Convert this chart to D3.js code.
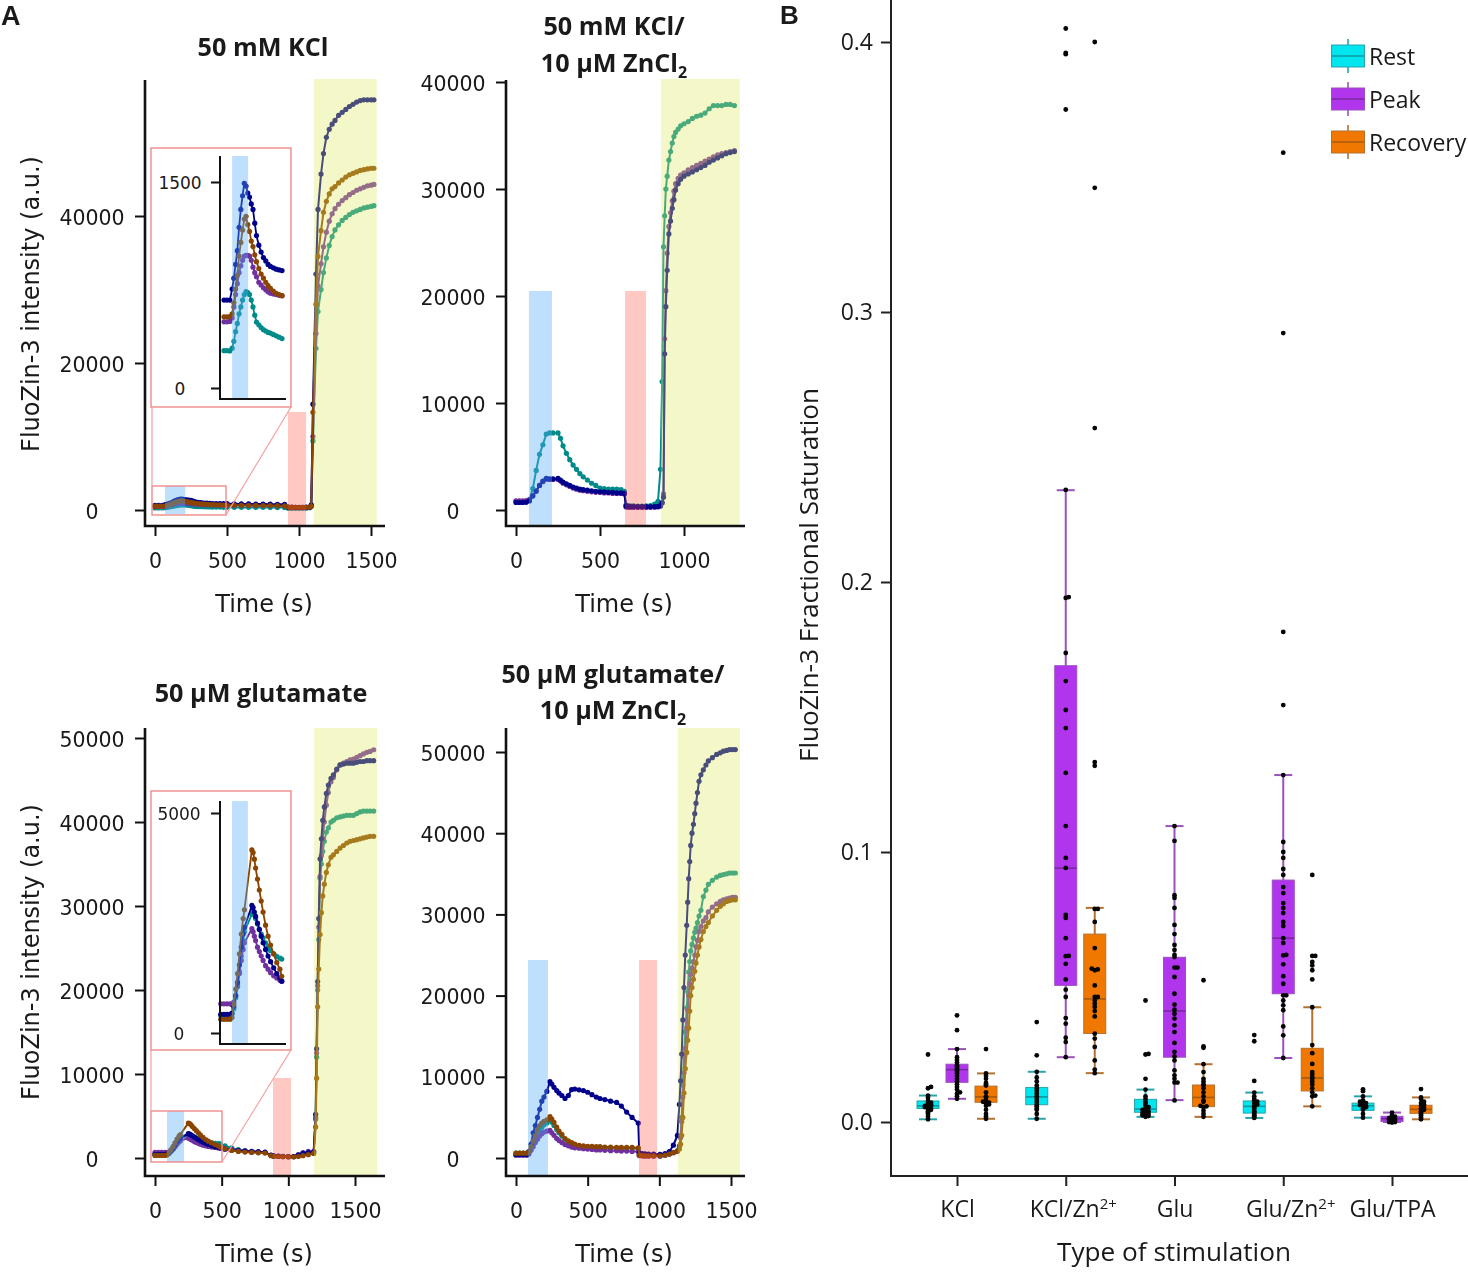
<!DOCTYPE html>
<html>
<head>
<meta charset="utf-8">
<script src="https://cdn.jsdelivr.net/npm/d3@7"></script>
<style>
  body { margin: 0; background: #fff; }
  svg { display: block; filter: blur(0.45px); }
  .a text { font-family: "DejaVu Sans", sans-serif; fill: #1a1a1a; }
  .b text { font-family: "Open Sans", sans-serif; fill: #1a1a1a; }
</style>
</head>
<body>
<div id="chart"></div>
<script>
// Painel A: series de intensidade
const colorNavy = "#00008b", colorBrown = "#8b4500", colorPurple = "#7030a0", colorTeal = "#008b8b";

const timeKCl = [0,25,50,70,85,100,115,130,145,160,
  175,190,205,220,235,250,265,280,300,320,
  340,360,380,400,425,450,475,500,550,600,
  650,700,750,800,850,900,925,950,975,1000,
  1025,1050,1075,1085,1097,1118,1132,1153,1170,1190,
  1210,1230,1250,1275,1300,1325,1350,1375,1400,1425,
  1450,1475,1500,1520];
const kclNavy = [640,640,640,720,800,900,1000,1170,1300,1400,
  1490,1470,1420,1390,1340,1300,1200,1110,1040,990,
  950,925,900,885,875,865,860,855,840,830,
  820,810,800,790,780,770,400,380,370,370,
  370,380,390,700,14400,32100,40900,45700,48500,50700,
  51800,52500,53000,53700,54100,54500,54900,55200,55500,55700,
  55800,55800,55800,55800];
const kclBrown = [518,518,520,540,620,720,820,960,1060,1150,
  1230,1250,1190,1140,1070,1030,970,920,870,830,
  800,770,745,725,705,690,680,672,650,640,
  630,620,610,600,590,580,400,370,350,340,
  350,360,380,500,13300,28000,34500,38000,40500,42000,
  43000,43700,44000,44500,44900,45300,45600,45800,46000,46200,
  46300,46400,46500,46500];
const kclPurple = [482,482,485,510,590,680,760,840,890,930,
  960,965,965,960,930,880,840,810,770,750,
  730,715,700,690,685,680,675,672,650,640,
  630,620,610,600,590,580,350,330,320,320,
  320,330,350,550,10000,24000,30500,33500,35800,37800,
  39300,40300,41000,41600,42100,42500,42900,43200,43500,43700,
  43900,44100,44200,44300];
const kclTeal = [272,272,270,290,340,410,470,540,590,640,
  680,702,695,680,640,590,530,480,460,440,
  425,415,405,400,390,380,370,360,350,350,
  345,340,340,335,330,330,250,240,240,240,
  240,250,300,500,9400,22000,27000,30000,32300,34300,
  36000,37200,38100,38800,39400,39800,40200,40500,40700,40900,
  41100,41200,41300,41400];

const timeKClZn = [0,20,40,60,80,100,120,140,160,180,
  200,220,250,265,280,300,320,340,360,380,
  400,425,450,475,500,525,550,575,600,625,
  645,655,665,680,700,725,750,775,800,825,
  845,860,870,878,885,892,900,910,920,930,
  940,950,965,980,1000,1025,1050,1075,1100,1125,
  1150,1175,1200,1225,1250,1275,1300];
const kclZnTeal = [800,800,800,800,1000,2000,3700,5200,6100,7100,
  7200,7200,7200,6700,6000,5300,4700,4200,3800,3400,
  3100,2800,2500,2300,2050,2000,1950,1950,1950,1900,
  1750,450,400,380,380,370,370,380,400,550,
  800,3800,12000,24600,27500,30000,31200,32700,33500,34300,
  34900,35300,35600,35900,36100,36300,36600,36800,36900,37100,
  37500,37800,37800,37800,37900,37900,37800];
const kclZnNavy = [700,700,700,720,850,1300,1750,2300,2700,2950,
  2900,2900,2950,2800,2600,2450,2300,2150,2050,1950,
  1900,1850,1800,1750,1700,1700,1650,1650,1600,1600,
  1550,380,330,320,320,310,310,310,320,320,
  330,400,700,1200,14600,19000,22400,25800,27000,28200,
  29000,29900,30500,30900,31200,31400,31600,31800,32000,32200,
  32500,32700,32900,33100,33300,33400,33500];
const kclZnPurple = [850,850,850,870,950,1350,1800,2300,2650,2850,
  2850,2850,2850,2700,2500,2350,2200,2050,1950,1850,
  1800,1750,1700,1650,1650,1600,1600,1550,1550,1550,
  1500,280,250,240,240,240,240,240,240,250,
  280,350,650,1500,16000,20500,24000,26500,27800,28900,
  29800,30500,31000,31300,31500,31800,32000,32200,32400,32600,
  32800,33000,33200,33300,33400,33500,33600];

const timeGlu = [0,25,50,75,90,105,120,135,150,165,
  180,190,250,260,270,280,295,310,325,340,
  360,380,400,425,450,475,490,525,575,625,
  675,725,775,825,870,890,925,960,1000,1040,
  1075,1110,1150,1190,1205,1212,1220,1228,1238,1248,
  1258,1270,1285,1300,1320,1338,1363,1388,1413,1438,
  1463,1488,1513,1538,1563,1588,1613,1640];
const gluNavy = [425,425,425,425,450,600,850,1150,1550,1950,
  2250,2400,2900,2850,2750,2650,2500,2350,2200,2050,
  1900,1750,1620,1480,1350,1250,1177,1050,950,870,
  820,770,720,680,350,250,220,200,170,170,
  350,550,650,700,5200,13000,21000,28500,35600,38000,
  40200,41800,43400,44400,45200,45600,46300,46800,46900,47000,
  47000,47000,47100,47200,47200,47300,47300,47300];
const gluPurple = [664,664,664,664,650,700,850,1080,1350,1650,
  1900,2050,2370,2300,2200,2100,1950,1850,1750,1650,
  1530,1450,1370,1300,1250,1200,1177,1100,1000,920,
  850,790,740,700,330,230,200,170,150,180,
  400,650,780,800,4800,12500,20500,27500,33500,36000,
  38000,40000,42000,43500,44800,45300,46200,46800,47000,47200,
  47400,47500,47700,47900,48100,48300,48400,48600];
const gluTeal = [400,400,400,400,430,550,800,1050,1400,1750,
  2100,2300,2700,2770,2680,2600,2480,2360,2250,2160,
  2050,1950,1870,1800,1740,1700,1680,1450,1200,1000,
  870,780,720,670,320,220,190,170,150,160,
  300,450,550,600,4600,12000,20000,26000,33300,35000,
  36500,37700,38800,39300,40000,40200,40500,40600,40700,40800,
  40800,40800,41000,41200,41300,41300,41300,41300];
const gluBrown = [310,310,310,310,350,650,1000,1350,1800,2250,
  2600,2800,4160,4100,3950,3750,3500,3250,3000,2750,
  2450,2200,2000,1800,1600,1450,1290,1100,900,780,
  710,660,620,590,280,200,180,160,140,140,
  180,280,400,550,3700,9500,18000,22500,26600,29200,
  31200,32600,34000,34900,35800,36100,36500,36900,37200,37500,
  37700,37800,37900,38000,38100,38200,38300,38300];

const timeGluZn = [0,25,50,75,90,105,120,135,150,165,
  180,195,215,237,250,265,284,300,320,342,
  365,388,410,440,470,500,530,560,586,620,
  660,702,735,772,810,853,860,880,900,925,
  960,1005,1040,1070,1098,1126,1140,1148,1156,1164,
  1172,1181,1191,1198,1205,1212,1219,1228,1238,1247,
  1256,1266,1277,1290,1307,1325,1342,1370,1400,1425,
  1447,1470,1490,1510,1530];
const gluZnNavy = [400,400,400,400,800,1700,3100,4000,5000,6000,
  7000,7500,8200,9400,9100,8700,8300,8000,7700,7330,
  7700,8430,8500,8400,8300,8100,7800,7500,7330,7200,
  7000,6850,6400,5650,5000,4300,620,550,500,480,
  470,450,550,800,1580,2780,6600,9500,12800,17000,
  21000,25000,28650,31500,34400,36500,38500,40000,41100,42400,
  43700,45000,46400,47200,47800,48400,48900,49300,49700,49900,
  50100,50200,50300,50300,50300];
const gluZnTeal = [600,600,600,600,700,1100,1700,2300,2900,3400,
  3800,4100,4300,4700,4400,4000,3500,3100,2700,2300,
  2000,1800,1650,1500,1400,1350,1300,1250,1250,1200,
  1200,1200,1200,1200,1200,1150,400,350,300,300,
  300,300,400,500,700,900,1500,2600,5000,9000,
  12500,15500,18500,20500,22900,24200,25500,26300,27100,27800,
  28300,29000,29800,30500,32200,33000,33700,34200,34600,34800,
  34900,35000,35100,35100,35100];
const gluZnPurple = [350,350,350,350,500,950,1400,1900,2300,2700,
  3000,3200,3300,3400,3100,2800,2400,2150,1900,1650,
  1500,1350,1250,1200,1150,1100,1050,1000,1000,950,
  900,900,850,850,800,800,300,250,220,220,
  220,220,350,500,650,800,1400,2500,4500,7500,
  10500,13500,16000,18200,20000,21500,22600,23400,24200,25000,
  26000,26800,27900,28500,29200,29600,30300,30900,31300,31600,
  31800,31900,32000,32100,32100];
const gluZnBrown = [600,600,600,600,750,1400,2100,2800,3500,4000,
  4300,4500,4700,5100,4800,4400,3800,3300,2900,2400,
  2100,1900,1700,1550,1500,1450,1450,1400,1400,1350,
  1350,1300,1300,1300,1300,1250,350,300,280,280,
  280,280,350,500,650,850,1100,1700,2800,5000,
  8000,11000,13000,14500,16000,18100,20000,21000,22000,23000,
  24000,25000,26000,26900,27900,28500,29000,29800,30500,31000,
  31300,31600,31700,31800,31800];

// Painel B: categorias e caixas [min, q1, mediana, q3, max]
const stimulations = ["KCl", "KCl/Zn", "Glu", "Glu/Zn", "Glu/TPA"];
const phases = ["Rest", "Peak", "Recovery"];
const boxRest = [[.001,.005,.006,.0078,.0098],[.0012,.0064,.0093,.0128,.0186],[.0019,.0036,.0048,.0084,.012],[.0015,.0033,.0058,.0078,.0109],[.0016,.0043,.006,.007,.0095]];
const boxPeak = [[.0086,.0147,.0194,.0214,.027],[.024,.0506,.094,.169,.234],[.0081,.024,.0411,.061,.1096],[.0237,.0475,.0681,.0896,.1285],[0,.0002,.0012,.0021,.0035]];
const boxRecovery = [[.0012,.0073,.0093,.0133,.018],[.0181,.0328,.0456,.0696,.0793],[.0019,.0057,.0091,.0137,.0214],[.0058,.0115,.0163,.0273,.0425],[.001,.0032,.0047,.0062,.0091]];

const pointsRest = [
  [.001,.002,.003,.0035,.004,.0045,.005,.0052,.0055,.0058,.006,.006,.0062,.0065,.007,.0072,.0078,.009,.0098,.0125,.013,.025],
  [.0012,.003,.0045,.005,.0058,.0065,.0075,.0085,.0095,.0105,.0115,.0125,.0135,.015,.0165,.0186,.0247,.037],
  [.0019,.0022,.0025,.0028,.003,.0033,.0036,.004,.0045,.005,.0055,.006,.0068,.0075,.0085,.0095,.012,.016,.025,.0252,.045],
  [.0015,.002,.0025,.003,.0035,.004,.0048,.0055,.006,.0065,.007,.0075,.008,.0085,.0095,.0109,.0152,.0299,.0322],
  [.0016,.003,.0045,.005,.0055,.006,.006,.0063,.0066,.007,.0075,.008,.0095,.0114,.0121]];
const pointsPeak = [
  [.0086,.0095,.0105,.011,.012,.013,.014,.015,.016,.017,.018,.0185,.019,.0195,.02,.0205,.021,.022,.023,.024,.027,.034,.0395],
  [.024,.0296,.0312,.0364,.0385,.0463,.049,.0528,.0586,.0614,.0615,.0681,.0756,.0767,.0941,.0978,.1096,.1293,.1459,.1526,.1633,.1737,.1941,.1944,.2341,.375,.3955,.396,.405],
  [.008,.0146,.0146,.016,.0173,.0191,.0228,.0243,.026,.0293,.0333,.0358,.0383,.0401,.0416,.0435,.0475,.0537,.0572,.0572,.0611,.0619,.0637,.0656,.0696,.073,.0793,.083,.084,.1041,.1096],
  [.0237,.0321,.0354,.0414,.0432,.045,.0469,.0469,.0512,.054,.0584,.0617,.0619,.0663,.0681,.0726,.0741,.0774,.0793,.0811,.0848,.087,.0915,.0937,.0978,.1,.1037,.1285,.1544,.1815,.2922,.359],
  [-.0002,0,0,.0003,.0005,.0008,.001,.0012,.0014,.0016,.002,.0025,.0035]];
const pointsRecovery = [
  [.0012,.002,.003,.0045,.006,.0065,.007,.0072,.0075,.008,.009,.0095,.011,.0135,.014,.0145,.016,.017,.018,.027],
  [.0181,.0194,.0228,.0278,.0309,.0327,.0391,.0411,.0426,.0438,.045,.0463,.0463,.0506,.0562,.0565,.0568,.0644,.0741,.0789,.0789,.1319,.1333,.257,.346,.4],
  [.0019,.003,.0042,.0055,.0058,.006,.0075,.008,.0095,.011,.0125,.0135,.014,.015,.016,.0185,.0214,.0275,.028,.0525],
  [.0058,.0095,.0098,.011,.0125,.014,.015,.016,.0165,.0175,.0185,.0215,.0255,.0285,.0425,.0528,.0562,.058,.0593,.0615,.0615,.0915],
  [.001,.0018,.0025,.003,.0035,.004,.0045,.005,.0055,.006,.0065,.007,.0075,.0085,.0091,.0122]];

const boxTicks = [0, 0.1, 0.2, 0.3, 0.4];

const width = 1468, height = 1278;
const svg = d3.select("#chart").append("svg")
  .attr("width", width).attr("height", height)
  .attr("viewBox", `0 0 ${width} ${height}`);

const gA = svg.append("g").attr("class", "a");
const gB = svg.append("g").attr("class", "b");

const bandStyle = {
  blue: { fill: "#54aef7", opacity: 0.38 },
  pink: { fill: "#ff4939", opacity: 0.30 },
  yellow: { fill: "#dde958", opacity: 0.33 }
};

// Definições dos quatro paineis (eixos em pixels, faixas em segundos)
const panels = [
  {
    title: ["50 mM KCl"], titleX: 263, titleY: [56],
    spineX: 145, top: 80, bottom: 526, right: 385, labelX: 92, labelMidY: 304, xLabelX: 264,
    xScale: [[0, 1500], [155, 371]], yScale: [[0, 40000], [510, 216]],
    xTicks: [0, 500, 1000, 1500], yTicks: [0, 20000, 40000],
    time: timeKCl, series: [[kclTeal, colorTeal], [kclPurple, colorPurple], [kclNavy, colorNavy], [kclBrown, colorBrown]],
    blue: [70, 210, 486, 514], pink: [924, 1049, 412, 526], yellow: [1103, 1540, 79, 526],
    showYLabel: true,
    inset: {
      rect: [151, 148, 291, 407], source: [152, 486, 226, 515],
      spineX: 220, top: 156, bottom: 399, right: 286, labelX: 180,
      xScale: [[0, 500], [224, 282]], yScale: [[0, 1500], [388, 182]], yTicks: [0, 1500],
      blue: [70, 208]
    }
  },
  {
    title: ["50 mM KCl/", "10 µM ZnCl|2"], titleX: 614, titleY: [35, 72],
    spineX: 506, top: 80, bottom: 526, right: 745, labelX: 453, xLabelX: 624,
    xScale: [[0, 1000], [516, 684]], yScale: [[0, 40000], [510, 82]],
    xTicks: [0, 500, 1000], yTicks: [0, 10000, 20000, 30000, 40000],
    time: timeKClZn, series: [[kclZnTeal, colorTeal], [kclZnPurple, colorPurple], [kclZnNavy, colorNavy]],
    blue: [77, 214, 291, 526], pink: [649, 774, 291, 526], yellow: [863, 1333, 79, 526]
  },
  {
    title: ["50 µM glutamate"], titleX: 261, titleY: [702],
    spineX: 145, top: 728, bottom: 1176, right: 385, labelX: 92, labelMidY: 952, xLabelX: 264,
    xScale: [[0, 1500], [155, 355]], yScale: [[0, 50000], [1158, 738]],
    xTicks: [0, 500, 1000, 1500], yTicks: [0, 10000, 20000, 30000, 40000, 50000],
    time: timeGlu, series: [[gluTeal, colorTeal], [gluPurple, colorPurple], [gluNavy, colorNavy], [gluBrown, colorBrown]],
    blue: [90, 218, 1111, 1162], pink: [885, 1020, 1078, 1176], yellow: [1193, 1665, 728, 1176],
    showYLabel: true,
    inset: {
      rect: [151, 791, 291, 1050], source: [151, 1111, 222, 1162],
      spineX: 220, top: 801, bottom: 1044, right: 286, labelX: 179,
      xScale: [[0, 500], [220.75, 283]], yScale: [[0, 5000], [1033, 813]], yTicks: [0, 5000],
      blue: [90, 218]
    }
  },
  {
    title: ["50 µM glutamate/", "10 µM ZnCl|2"], titleX: 613, titleY: [683, 719],
    spineX: 506, top: 728, bottom: 1176, right: 745, labelX: 453, xLabelX: 624,
    xScale: [[0, 1500], [516, 731]], yScale: [[0, 50000], [1158, 752]],
    xTicks: [0, 500, 1000, 1500], yTicks: [0, 10000, 20000, 30000, 40000, 50000],
    time: timeGluZn, series: [[gluZnTeal, colorTeal], [gluZnPurple, colorPurple], [gluZnNavy, colorNavy], [gluZnBrown, colorBrown]],
    blue: [84, 223, 960, 1176], pink: [858, 984, 960, 1176], yellow: [1130, 1563, 728, 1176]
  }
];

function drawBand(g, x, band, kind) {
  g.append("rect")
    .attr("x", x(band[0])).attr("width", x(band[1]) - x(band[0]))
    .attr("y", band[2]).attr("height", band[3] - band[2])
    .attr("fill", bandStyle[kind].fill)
    .attr("opacity", bandStyle[kind].opacity);
}

function drawSeries(g, x, y, time, series, r, lineWidth, maxTime) {
  series.forEach(([values, color]) => {
    const pts = time.map((t, i) => [t, values[i]]).filter(d => d[0] <= maxTime);
    g.append("path")
      .attr("d", d3.line().x(d => x(d[0])).y(d => y(d[1]))(pts))
      .attr("fill", "none").attr("stroke", color).attr("stroke-width", lineWidth);
    g.selectAll(null).data(pts).enter().append("circle")
      .attr("cx", d => x(d[0])).attr("cy", d => y(d[1])).attr("r", r).attr("fill", color);
  });
}

// Eixo Y com rotulos centrados, como no original
function drawYAxis(g, y, ticks, spineX, labelX, fontSize, tickLen) {
  const axis = g.append("g")
    .attr("transform", `translate(${spineX},0)`)
    .call(d3.axisLeft(y).tickValues(ticks).tickFormat(d3.format("d")).tickSize(tickLen).tickSizeOuter(0));
  axis.select(".domain").remove();
  axis.selectAll("line").attr("stroke", "#111").attr("stroke-width", 2);
  axis.selectAll("text")
    .attr("text-anchor", "middle").attr("x", labelX - spineX).attr("y", 1.5)
    .style("font-size", fontSize + "px");
}

function drawSpines(g, p) {
  g.append("path")
    .attr("d", `M${p.spineX},${p.top}V${p.bottom}H${p.right}`)
    .attr("fill", "none").attr("stroke", "#111").attr("stroke-width", 2.6);
}

function drawTitle(g, lines, cx, ys) {
  lines.forEach((line, i) => {
    const [main, sub] = line.split("|");
    const t = g.append("text").attr("x", cx).attr("y", ys[i])
      .attr("text-anchor", "middle")
      .style("font-family", "'Open Sans', sans-serif")
      .style("font-weight", 700).style("font-size", "25.2px").text(main);
    if (sub) t.append("tspan").attr("dy", 6).style("font-size", "16px").text(sub);
  });
}

panels.forEach(p => {
  const g = gA.append("g");
  const x = d3.scaleLinear().domain(p.xScale[0]).range(p.xScale[1]);
  const y = d3.scaleLinear().domain(p.yScale[0]).range(p.yScale[1]);

  drawSeries(g, x, y, p.time, p.series, 2.6, 2, Infinity);
  drawBand(g, x, p.blue, "blue");
  drawBand(g, x, p.pink, "pink");
  drawBand(g, x, p.yellow, "yellow");

  if (p.inset) {
    const ins = p.inset;
    const [x0, y0, x1, y1] = ins.rect;
    const [sx0, sy0, sx1, sy1] = ins.source;
    g.append("rect").attr("x", sx0).attr("y", sy0).attr("width", sx1 - sx0).attr("height", sy1 - sy0)
      .attr("fill", "none").attr("stroke", "#f08a8a").attr("stroke-width", 1.4);
    g.append("line").attr("x1", sx0).attr("y1", sy0).attr("x2", sx0).attr("y2", y1)
      .attr("stroke", "#f5a0a0").attr("stroke-width", 1.2);
    g.append("line").attr("x1", sx1).attr("y1", sy1).attr("x2", x1).attr("y2", y1)
      .attr("stroke", "#f5a0a0").attr("stroke-width", 1.2);
    g.append("rect").attr("x", x0).attr("y", y0).attr("width", x1 - x0).attr("height", y1 - y0)
      .attr("fill", "#fff").attr("stroke", "#f08a8a").attr("stroke-width", 1.4);

    const ix = d3.scaleLinear().domain(ins.xScale[0]).range(ins.xScale[1]);
    const iy = d3.scaleLinear().domain(ins.yScale[0]).range(ins.yScale[1]);
    drawSeries(g, ix, iy, p.time, p.series, 2.6, 1.8, ins.xScale[0][1]);
    drawBand(g, ix, [ins.blue[0], ins.blue[1], ins.top, ins.bottom], "blue");
    drawYAxis(g, iy, ins.yTicks, ins.spineX, ins.labelX, 17, 9);
    g.append("path")
      .attr("d", `M${ins.spineX},${ins.top}V${ins.bottom}H${ins.right}`)
      .attr("fill", "none").attr("stroke", "#111").attr("stroke-width", 2);
  }

  drawSpines(g, p);
  const xAxis = g.append("g")
    .attr("transform", `translate(0,${p.bottom})`)
    .call(d3.axisBottom(x).tickValues(p.xTicks).tickFormat(d3.format("d")).tickSize(10).tickPadding(17).tickSizeOuter(0));
  xAxis.select(".domain").remove();
  xAxis.selectAll("line").attr("stroke", "#111").attr("stroke-width", 2);
  xAxis.selectAll("text").style("font-size", "20.5px");

  drawYAxis(g, y, p.yTicks, p.spineX, p.labelX, 20.5, 10);

  g.append("text").attr("x", p.xLabelX).attr("y", p.bottom + 86)
    .attr("text-anchor", "middle").style("font-size", "24px").text("Time (s)");

  if (p.showYLabel) {
    g.append("text")
      .attr("transform", `translate(39,${p.labelMidY}) rotate(-90)`)
      .attr("text-anchor", "middle").style("font-size", "24px")
      .text("FluoZin-3 intensity (a.u.)");
  }
  drawTitle(g, p.title, p.titleX, p.titleY);
});

// Letras dos paineis
gA.append("text").attr("x", 1).attr("y", 25)
  .style("font-family", "'Liberation Sans', sans-serif").style("font-weight", 700).style("font-size", "27px").text("A");
gA.append("text").attr("x", 780).attr("y", 24)
  .style("font-family", "'Liberation Sans', sans-serif").style("font-weight", 700).style("font-size", "26px").text("B");

// Painel B: boxplot
const bottomB = 1176;
const yB = d3.scaleLinear().domain([0, 0.4]).range([1122, 42]);
const xB = d3.scalePoint().domain(stimulations).range([957, 1392]);
const phaseX = d3.scalePoint().domain(phases).range([-29, 29]);
const phaseStyle = {
  Rest: { fill: "#00e5ee", line: "#2aa5ab", median: "#0b98a0" },
  Peak: { fill: "#b035ec", line: "#9a52bd", median: "#7a2aa0" },
  Recovery: { fill: "#f07800", line: "#b3722f", median: "#a85a10" }
};
const boxData = { Rest: boxRest, Peak: boxPeak, Recovery: boxRecovery };
const pointData = { Rest: pointsRest, Peak: pointsPeak, Recovery: pointsRecovery };

gB.append("path").attr("d", `M891,0V${bottomB}H1468`)
  .attr("fill", "none").attr("stroke", "#222").attr("stroke-width", 2);

const yAxisB = gB.append("g").attr("transform", "translate(891,0)")
  .call(d3.axisLeft(yB).tickValues(boxTicks).tickFormat(d3.format(".1f")).tickSize(10).tickPadding(8).tickSizeOuter(0));
yAxisB.select(".domain").remove();
yAxisB.selectAll("line").attr("stroke", "#222").attr("stroke-width", 2);
yAxisB.selectAll("text").style("font-size", "23px");

const xAxisB = gB.append("g").attr("transform", `translate(0,${bottomB})`)
  .call(d3.axisBottom(xB).tickSize(10).tickPadding(15).tickSizeOuter(0));
xAxisB.select(".domain").remove();
xAxisB.selectAll("line").attr("stroke", "#222").attr("stroke-width", 2);
xAxisB.selectAll("text").style("font-size", "23px")
  .each(function (d) {
    if (d.endsWith("/Zn")) {
      d3.select(this).attr("x", 7)
        .append("tspan").attr("dy", -8).style("font-size", "15px").text("2+");
    }
  });

function drawBox(g, cx, b, st, halfWidth, capHalf) {
  const [lo, q1, med, q3, hi] = b;
  g.append("line").attr("x1", cx).attr("x2", cx).attr("y1", yB(lo)).attr("y2", yB(hi))
    .attr("stroke", st.line).attr("stroke-width", 2);
  [lo, hi].forEach(v => g.append("line")
    .attr("x1", cx - capHalf).attr("x2", cx + capHalf).attr("y1", yB(v)).attr("y2", yB(v))
    .attr("stroke", st.line).attr("stroke-width", 2));
  g.append("rect").attr("x", cx - halfWidth).attr("width", halfWidth * 2)
    .attr("y", yB(q3)).attr("height", yB(q1) - yB(q3))
    .attr("fill", st.fill).attr("stroke", st.line).attr("stroke-width", 1);
  g.append("line").attr("x1", cx - halfWidth).attr("x2", cx + halfWidth).attr("y1", yB(med)).attr("y2", yB(med))
    .attr("stroke", st.median).attr("stroke-width", 1.6);
}

stimulations.forEach((s, i) => {
  phases.forEach(ph => {
    const cx = xB(s) + phaseX(ph);
    drawBox(gB, cx, boxData[ph][i], phaseStyle[ph], 11, 9);
    // pontos quase empatados vao para o lado
    let prev = -1, side = 0;
    const pts = pointData[ph][i].map(v => {
      side = Math.abs(v - prev) < 0.0005 ? (side === 0 ? 3 : side > 0 ? -side : 0) : 0;
      prev = v;
      return [v, side];
    });
    gB.selectAll(null).data(pts).enter().append("circle")
      .attr("cx", d => cx + d[1]).attr("cy", d => yB(d[0])).attr("r", 2.4).attr("fill", "#050505");
  });
});

// Legenda
phases.forEach((ph, i) => {
  const cy = 56 + i * 43;
  const st = phaseStyle[ph];
  gB.append("line").attr("x1", 1348).attr("x2", 1348).attr("y1", cy - 17).attr("y2", cy + 17)
    .attr("stroke", st.line).attr("stroke-width", 1.6);
  gB.append("rect").attr("x", 1331.5).attr("y", cy - 11).attr("width", 33).attr("height", 22)
    .attr("fill", st.fill).attr("stroke", st.line).attr("stroke-width", 1);
  gB.append("line").attr("x1", 1331.5).attr("x2", 1364.5).attr("y1", cy).attr("y2", cy)
    .attr("stroke", st.median).attr("stroke-width", 1.6);
  gB.append("text").attr("x", 1369).attr("y", cy + 9).style("font-size", "23px").text(ph);
});

gB.append("text").attr("x", 1174).attr("y", 1261).attr("text-anchor", "middle")
  .style("font-size", "26.2px").text("Type of stimulation");
gB.append("text").attr("transform", "translate(818,575) rotate(-90)").attr("text-anchor", "middle")
  .style("font-size", "26.2px").text("FluoZin-3 Fractional Saturation");
</script>
</body>
</html>
